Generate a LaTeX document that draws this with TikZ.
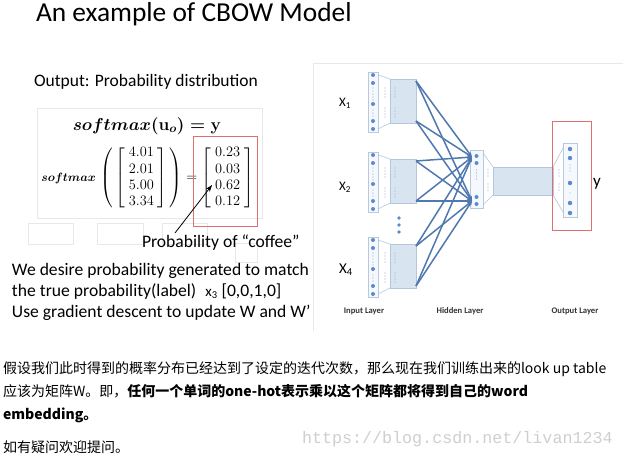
\documentclass[tikz,border=0pt]{standalone}
\usepackage{amsmath}
\usepackage{fontspec}
\setmainfont{Carlito}
\newfontfamily\cjk{Noto Sans CJK SC}
\newfontfamily\wmfont{Liberation Mono}
\usetikzlibrary{arrows.meta}
\definecolor{barline}{HTML}{B9C9DC}
\definecolor{barfill}{HTML}{F5F8FC}
\definecolor{boxfill}{HTML}{D9E4F1}
\definecolor{boxline}{HTML}{B4C6DC}
\definecolor{neuron}{HTML}{5A8AD0}
\definecolor{connc}{HTML}{4F78B0}
\definecolor{redbox}{HTML}{E07070}
\definecolor{faintc}{HTML}{E8E8E8}
\definecolor{wmgray}{HTML}{CFCFCF}
\newsavebox\eqboxA
\newsavebox\eqboxB
\newsavebox\eqboxC
\newcommand\pe[1]{\hspace{4pt}#1\hspace{4pt}}
\tikzset{
  txt/.style={anchor=base west, inner sep=0pt, outer sep=0pt},
  slidetxt/.style={txt, font=\fontsize{17.6}{20}\selectfont},
  barbox/.style={draw=barline, fill=barfill, line width=0.6pt, inner sep=0pt, outer sep=0pt, anchor=north west},
  projbox/.style={draw=boxline, fill=boxfill, line width=0.6pt, inner sep=0pt, outer sep=0pt, anchor=north west},
  neur/.style={circle, fill=neuron, inner sep=0pt, minimum size=4pt},
  tinydot/.style={circle, fill=neuron!70, inner sep=0pt, minimum size=1.1pt},
  conn/.style={draw=connc, line width=1.5pt, -{Stealth[length=5pt,width=4pt]}},
  thinline/.style={draw=boxline, line width=0.6pt},
  faintline/.style={draw=faintc, line width=0.6pt},
  layerlbl/.style={font=\fontsize{8.6}{10}\selectfont\bfseries, text=black!80, inner sep=0pt},
  cjktxt/.style={txt, font=\cjk\fontsize{14}{16}\selectfont},
}
\begin{document}
\sbox\eqboxA{\fontsize{16.5}{18}\selectfont\boldmath$softmax(\mathbf{u}_o)=\mathbf{y}$}%
\sbox\eqboxB{\fontsize{11.5}{13}\selectfont\boldmath$softmax$}%
\sbox\eqboxC{\fontsize{14}{16.3}\selectfont$\left(\,\begin{bmatrix}\pe{4.01}\\\pe{2.01}\\\pe{5.00}\\\pe{3.34}\end{bmatrix}\,\right)=\begin{bmatrix}\pe{0.23}\\\pe{0.03}\\\pe{0.62}\\\pe{0.12}\end{bmatrix}$}%
\begin{tikzpicture}[x=1pt,y=-1pt]
\useasboundingbox[fill=white] (0,0) rectangle (623,458);

% title and left slide
\node[txt, font=\fontsize{27.4}{32}\selectfont] (title) at (36,21) {An example of CBOW Model};
\node[txt, font=\fontsize{17.5}{20}\selectfont] (outp) at (34,86) {Output: Probability distribution};

\draw[faintline] (37,108) rectangle (262,218);
\draw[faintline] (28,223) rectangle (73,244);
\draw[faintline] (97,223) rectangle (143,244);
\draw[faintline] (162,223) rectangle (207,244);
\draw[faintline] (235,243) rectangle (257,262);

\node[inner sep=0pt] (eq1) at (147,126) {\usebox\eqboxA};
\node[inner sep=0pt, anchor=east] (smx) at (96,178) {\usebox\eqboxB};
\node[inner sep=0pt, anchor=west] (mat) at (100,178) {\usebox\eqboxC};
\draw[redbox, line width=1pt] (193,136) rectangle (257,226);

\node[slidetxt] (coffee) at (142,247) {Probability of “coffee”};
\coordinate (arrtail) at (175,233);
\coordinate (arrhead) at (212,185);
\draw[-{Stealth[length=7pt,width=5pt]}, line width=0.8pt] (arrtail) -- (arrhead);

\node[slidetxt] (l1) at (12,275) {We desire probability generated to match};
\node[slidetxt] (l2) at (12,296) {the true probability(label)\hspace{9pt}{\fontsize{15}{18}\selectfont x\textsubscript{3}} [0,0,1,0]};
\node[slidetxt] (l3) at (12,317) {Use gradient descent to update W and W’};

% right panel frame
\draw[faintline] (623,63) -- (313,63) -- (313,331);

% input groups
\foreach \i/\T in {1/72,2/152,3/237} {
  \node[barbox, minimum width=10pt, minimum height=60pt] (bar\i) at (368,\T) {};
  \node[projbox, minimum width=26pt, minimum height=44pt] (box\i) at (390,\T+7) {};
  \foreach \dy in {3,11,32,49,57} { \node[neur] at (373,\T+\dy) {}; }
  \foreach \dy in {16,19,22,25,28,38,41,44} { \node[tinydot] at (373,\T+\dy) {}; }
  \foreach \dy in {16,19,22,25,36,39,42,45} {
    \node[tinydot] at (385,\T+\dy) {};
    \node[tinydot] at (395,\T+\dy) {};
  }
  \draw[thinline] ([yshift=-3pt]bar\i.north east) -- (box\i.north west);
  \draw[thinline] ([yshift=3pt]bar\i.south east) -- (box\i.south west);
}
\node[neur, minimum size=3.6pt] (vd1) at (399,218) {};
\node[neur, minimum size=3.6pt] (vd2) at (399,225) {};
\node[neur, minimum size=3.6pt] (vd3) at (399,232) {};

% hidden layer
\node[barbox, minimum width=13pt, minimum height=58pt] (hid) at (470,150) {};
\foreach \y in {156,163,197,204} { \node[neur] at (476.5,\y) {}; }
\foreach \y in {170,173,176,179} { \node[tinydot] at (476.5,\y) {}; }
\coordinate (h1) at (472,157);
\coordinate (h2) at (472,201);
\foreach \i in {1,2,3} {
  \draw[conn] ([yshift=-2pt]box\i.north east) -- (h1);
  \draw[conn] ([yshift=-2pt]box\i.north east) -- (h2);
  \draw[conn] ([yshift=2pt]box\i.south east) -- (h1);
  \draw[conn] ([yshift=2pt]box\i.south east) -- (h2);
}

% hidden -> output projection
\node[projbox, minimum width=60pt, minimum height=28pt] (hbox) at (493,167) {};
\draw[thinline] ([yshift=-3pt]hid.north east) -- (hbox.north west);
\draw[thinline] ([yshift=3pt]hid.south east) -- (hbox.south west);
\foreach \y in {170,173,176,184,187,190} {
  \node[tinydot] at (488,\y) {};
  \node[tinydot] at (559,\y) {};
}

% output layer
\node[barbox, minimum width=14pt, minimum height=74pt] (outbar) at (563,143) {};
\foreach \y in {149,158,183,203,213} { \node[neur, minimum size=4.4pt] at (570,\y) {}; }
\foreach \y in {165,168,171} { \node[tinydot] at (570,\y) {}; }
\node[tinydot] at (570,193) {};
\draw[thinline] (hbox.north east) -- ([yshift=-5pt]outbar.north west);
\draw[thinline] (hbox.south east) -- ([yshift=5pt]outbar.south west);
\draw[redbox, line width=1pt] (552,121) rectangle (591,230);

% labels
\node[inner sep=0pt, font=\fontsize{13}{15}\selectfont] (x1) at (345,103) {X\textsubscript{1}};
\node[inner sep=0pt, font=\fontsize{13}{15}\selectfont] (x2) at (345,187) {X\textsubscript{2}};
\node[inner sep=0pt, font=\fontsize{15}{17}\selectfont] (x4) at (346,270) {X\textsubscript{4}};
\node[inner sep=0pt, font=\fontsize{17}{20}\selectfont] (ylbl) at (597,184) {y};
\node[layerlbl] (il) at (364,311) {Input Layer};
\node[layerlbl] (hl) at (460,311) {Hidden Layer};
\node[layerlbl] (ol) at (575,311) {Output Layer};

% Chinese text
\node[cjktxt] (c1) at (3,373) {假设我们此时得到的概率分布已经达到了设定的迭代次数，那么现在我们训练出来的look up table};
\node[cjktxt] (c2) at (3,396) {应该为矩阵W。即，\textbf{任何一个单词的one-hot表示乘以这个矩阵都将得到自己的word}};
\node[cjktxt] (c3) at (3,419) {\textbf{embedding。}};
\node[cjktxt] (c4) at (3,452) {如有疑问欢迎提问。};
\node[txt, font=\wmfont\fontsize{16.7}{18}\selectfont, text=wmgray] (wm) at (302,443) {https://blog.csdn.net/livan1234};
\end{tikzpicture}
\end{document}
